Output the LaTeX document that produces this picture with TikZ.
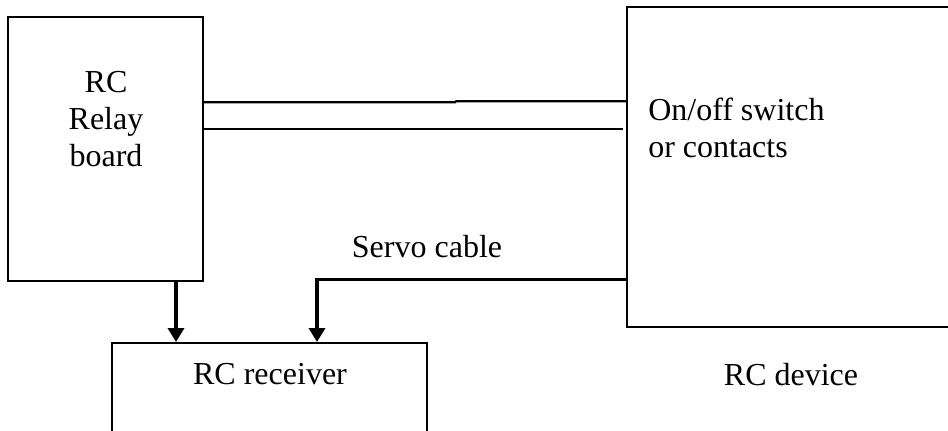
\documentclass[tikz,border=0pt]{standalone}
\usepackage{fontspec}
\setmainfont{Liberation Serif}
\usetikzlibrary{arrows.meta}
\begin{document}
\begin{tikzpicture}[x=0.75pt,y=-0.75pt,
  box/.style={draw, line width=1.5pt, rectangle, inner sep=0pt},
  lbl/.style={font=\fontsize{24}{27.75}\selectfont, inner sep=0pt},
  wire/.style={line width=1.6pt},
  feed/.style={line width=2.6pt, -{Triangle[length=10.5pt,width=12pt]}},
]
\useasboundingbox (0,0) rectangle (948,431);
\clip (0,0) rectangle (948,431);
% boxes
\node[box, minimum width=146.25pt, minimum height=198pt] (relay) at (105.5,149) {};
\node[box, minimum width=249.75pt, minimum height=240pt] (device) at (793.5,167) {};
\node[box, minimum width=236.25pt, minimum height=87.75pt] (rx) at (269.5,401.5) {};
% texts
\node[lbl, align=center] (relaytxt) at (106,119.5) {RC\\Relay\\board};
\node[lbl, align=left, anchor=west] (switchtxt) at (648,127.5) {On/off switch\\or contacts};
\node[lbl, anchor=base] (servotxt) at (427,257) {Servo cable};
\node[lbl, anchor=base] (rxtxt) at (270,384) {RC receiver};
\node[lbl, anchor=base] (devtxt) at (791,385) {RC device};
% helper coordinates
\coordinate (t1) at (455,102.3);
\coordinate (t2) at (456,101.3);
\coordinate (c2) at (0,129);
\coordinate (c2end) at (623,129);
\coordinate (a1) at (176,0);
\coordinate (s1) at (317,279.5);
% connectors
\draw[wire] (relay.east |- t1) -- (t1) -- (t2) -- (device.west |- t2);
\draw[wire] (relay.east |- c2) -- (c2end);
\draw[feed] (relay.south -| a1) -- (rx.north -| a1);
\draw[feed] (device.west |- s1) -- (s1) -- (rx.north -| s1);
\end{tikzpicture}
\end{document}
